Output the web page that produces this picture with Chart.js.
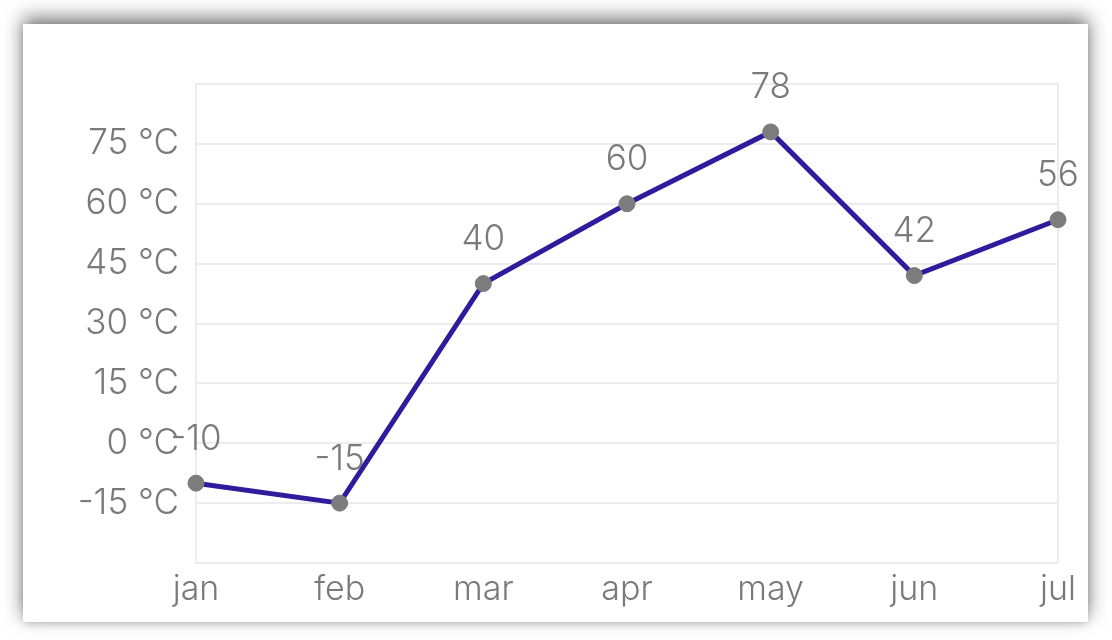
<!DOCTYPE html>
<html>
<head>
<meta charset="utf-8">
<script src="https://cdn.jsdelivr.net/npm/chart.js@4"></script>
<style>
  html, body { margin: 0; padding: 0; background: #ffffff; width: 1112px; height: 640px; overflow: hidden; }
  #card { position: absolute; left: 23px; top: 24px; width: 1065px; height: 598px; background: #fff;
          box-shadow: 0 -6px 18px rgba(0,0,0,0.55), 0 2px 6px rgba(0,0,0,0.12); }
  #c { position: absolute; left: 0; top: 0; }
</style>
</head>
<body>
<div id="card"><canvas id="c" width="1065" height="598"></canvas></div>
<script>
const categories = ['jan', 'feb', 'mar', 'apr', 'may', 'jun', 'jul'];
const temperatures = [-10, -15, 40, 60, 78, 42, 56];
const yMin = -30, yMax = 90, yStep = 15;
const unitSuffix = ' °C';

const FONT = 'Inter, "Noto Sans", "Liberation Sans", sans-serif';
const TEXT = '#7a7a7a';
const GRID = '#ececec';

const valueLabels = {
  id: 'valueLabels',
  afterDatasetsDraw(chart) {
    const ctx = chart.ctx;
    const meta = chart.getDatasetMeta(0);
    ctx.save();
    ctx.font = '300 35px ' + FONT;
    ctx.fillStyle = TEXT;
    ctx.textAlign = 'center';
    ctx.textBaseline = 'middle';
    meta.data.forEach((pt, i) => {
      ctx.fillText(String(chart.data.datasets[0].data[i]), pt.x, pt.y - 44);
    });
    ctx.restore();
  }
};

new Chart(document.getElementById('c'), {
  type: 'line',
  data: {
    labels: categories,
    datasets: [{
      data: temperatures,
      borderColor: '#2f1b9b',
      borderWidth: 5,
      pointBackgroundColor: '#7c7c7c',
      pointBorderColor: '#7c7c7c',
      pointRadius: 8,
      pointBorderWidth: 1,
      tension: 0,
      fill: false
    }]
  },
  options: {
    responsive: false,
    animation: false,
    devicePixelRatio: 1,
    layout: { padding: { left: 0, right: 30, top: 60, bottom: 0 } },
    plugins: { legend: { display: false }, tooltip: { enabled: false } },
    scales: {
      x: {
        offset: false,
        grid: {
          color: (c) => (c.index === 0 || c.index === categories.length - 1) ? GRID : 'rgba(0,0,0,0)',
          lineWidth: 2,
          drawTicks: false
        },
        border: { display: false },
        ticks: { color: TEXT, font: { family: FONT, size: 34, weight: '300' }, padding: 6, maxRotation: 0 },
        afterFit(scale) { scale.height = 59; }
      },
      y: {
        min: yMin, max: yMax,
        grid: { color: GRID, lineWidth: 2, drawTicks: false },
        border: { color: GRID, width: 2 },
        ticks: {
          stepSize: yStep,
          color: TEXT,
          font: { family: FONT, size: 35, weight: '300' },
          padding: 17,
          callback: (v) => (v === yMin || v === yMax) ? '' : v + unitSuffix
        },
        afterFit(scale) { scale.width = 173; }
      }
    }
  },
  plugins: [valueLabels]
});
</script>
</body>
</html>
